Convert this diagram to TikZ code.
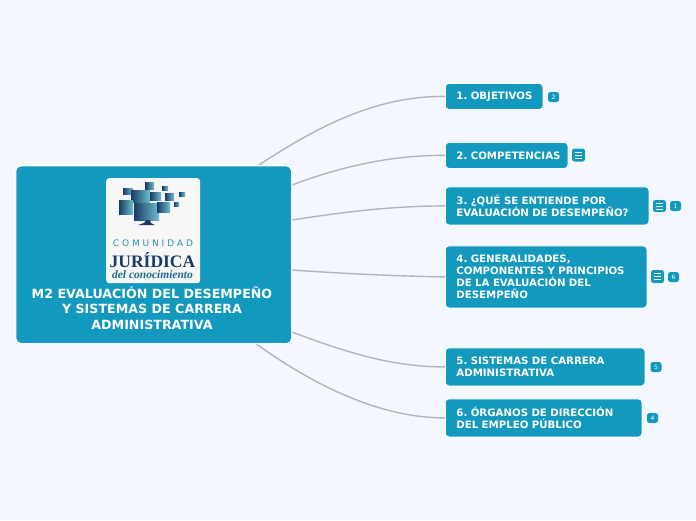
\documentclass[tikz,border=0pt]{standalone}
\usepackage{fontspec}
\setmainfont{DejaVu Sans}
\newfontfamily\serifbrand{Liberation Serif}
\usetikzlibrary{calc}
\definecolor{bgc}{HTML}{F5F7FF}
\definecolor{teal}{HTML}{1299BD}
\definecolor{linkc}{HTML}{B0B3C0}
\definecolor{logobg}{HTML}{F7F7F7}
\definecolor{navy}{HTML}{1B3A66}
\definecolor{brandteal}{HTML}{2A8FAE}
\definecolor{lightteal}{HTML}{6CC0CC}
\definecolor{midteal}{HTML}{1F7E9F}
\tikzset{
  x=1pt,y=-1pt,
  childbox/.style={draw=white,line width=0.8pt,fill=teal,rounded corners=3.5pt,anchor=north west,
    inner xsep=11pt,inner ysep=0pt,align=left,text=white,
    font=\fontsize{10.2}{12}\selectfont\bfseries\frenchspacing},
  badge/.style={draw=none,fill=teal,rounded corners=2.5pt,text=white,minimum width=11pt,minimum height=10pt,inner sep=0pt,
    font=\fontsize{6}{6}\selectfont},
  menubox/.style={draw=none,fill=teal,rounded corners=2.5pt,minimum width=13pt,minimum height=13pt,inner sep=0pt},
  link/.style={draw=linkc,line width=1.4pt},
  monitor/.style={left color=navy,middle color=midteal,right color=lightteal,draw=none},
}
\newcommand{\menuicon}[1]{%
  \foreach \dy in {-3,0,3}{\draw[white,line width=0.9pt] ($(#1)+(-3.6,\dy)$) -- ($(#1)+(3.6,\dy)$);}}
\begin{document}
\begin{tikzpicture}
\useasboundingbox (0,0) rectangle (696,520);
\fill[bgc] (0,0) rectangle (696,520);

\coordinate (s1) at (259,165);
\coordinate (s2) at (292,185);
\coordinate (s3) at (292,220);
\coordinate (s4) at (292,270);
\coordinate (s5) at (292,332);
\coordinate (s6) at (255,343);

\node[childbox,text width=75.5pt,minimum height=26pt] (n1) at (445,83) {\raisebox{-0.5pt}{\mbox{1. OBJETIVOS}}};
\node[childbox,text width=100.5pt,minimum height=26pt] (n2) at (445,142) {\mbox{2. COMPETENCIAS}};
\node[childbox,text width=181.5pt,minimum height=38pt] (n3) at (445,186.5) {3. ¿QUÉ SE ENTIENDE POR\\\mbox{EVALUACIÓN DE DESEMPEÑO?}};
\node[childbox,text width=179.5pt,minimum height=62pt] (n4) at (445,245.5) {4. GENERALIDADES,\\\mbox{COMPONENTES Y PRINCIPIOS}\\DE LA EVALUACIÓN DEL\\DESEMPEÑO};
\node[childbox,text width=177.5pt,minimum height=38pt] (n5) at (445,347.5) {5. SISTEMAS DE CARRERA\\ADMINISTRATIVA};
\node[childbox,text width=174.5pt,minimum height=38pt] (n6) at (445,398.5) {\mbox{6. ÓRGANOS DE DIRECCIÓN}\\DEL EMPLEO PÚBLICO};

\draw[link] (s1) .. controls (330,118) and (385,96) .. (n1.west);
\draw[link] (s2) .. controls (345,165) and (395,155) .. (n2.west);
\draw[link] (s3) .. controls (350,211) and (395,206) .. (n3.west);
\draw[link] (s4) .. controls (350,274) and (395,276) .. (n4.west);
\draw[link] (s5) .. controls (350,354) and (395,367) .. (n5.west);
\draw[link] (s6) .. controls (320,390) and (385,418) .. (n6.west);

\node[draw=white,line width=1.4pt,fill=teal,rounded corners=5pt,anchor=north west,minimum width=276pt,minimum height=178pt,inner sep=0pt] (main) at (15,165) {};
\node[anchor=center,align=center,text=white,inner sep=0pt,font=\fontsize{12.65}{15.3}\selectfont\bfseries\frenchspacing] (title) at (152,308) {M2 EVALUACIÓN DEL DESEMPEÑO\\Y SISTEMAS DE CARRERA\\ADMINISTRATIVA};

\node[fill=logobg,rounded corners=3pt,anchor=north west,minimum width=94pt,minimum height=105pt,inner sep=0pt] (logo) at (106,178) {};
% logo artwork
\fill[monitor] (123,188) rectangle (133,194);
\fill[monitor] (145,182) rectangle (154,189);
\fill[monitor] (162,186) rectangle (168,190);
\fill[monitor] (131,190) rectangle (150,202);
\fill[monitor] (150,192) rectangle (161,200);
\fill[monitor] (165,193) rectangle (174,200);
\fill[monitor] (179,192) rectangle (185,196);
\fill[monitor] (119,200) rectangle (133,214);
\fill[monitor] (134,203) rectangle (159,220);
\fill[monitor] (157,202) rectangle (170,212);
\fill[monitor] (174,202) rectangle (179,206);
\fill[navy] (146,220) -- (150,220) -- (151,223) -- (155,225) -- (138,225) -- (144,223) -- cycle;
\node[inner sep=0pt,text=brandteal,font=\fontsize{9}{9}\selectfont] (logoa) at (153,243) {C O M U N I D A D};
\node[inner sep=0pt,text=navy,font=\serifbrand\fontsize{17.5}{18}\selectfont\bfseries] (logob) at (152.5,260) {JURÍDICA};
\node[inner sep=0pt,text=midteal!70!navy,font=\serifbrand\fontsize{11.5}{11}\selectfont\itshape\bfseries] (logoc) at (152.5,275) {del conocimiento};

\node[badge] (b1) at (553.5,97) {2};
\node[menubox] (m2) at (578.5,155) {}; \menuicon{m2}
\node[menubox,minimum height=12pt] (m3) at (659.5,206) {}; \menuicon{m3}
\node[badge] (b3) at (675.5,206) {1};
\node[menubox] (m4) at (657.5,276.5) {}; \menuicon{m4}
\node[badge] (b4) at (673.5,277) {6};
\node[badge] (b5) at (656,367) {5};
\node[badge] (b6) at (652.5,418) {4};
\end{tikzpicture}
\end{document}
